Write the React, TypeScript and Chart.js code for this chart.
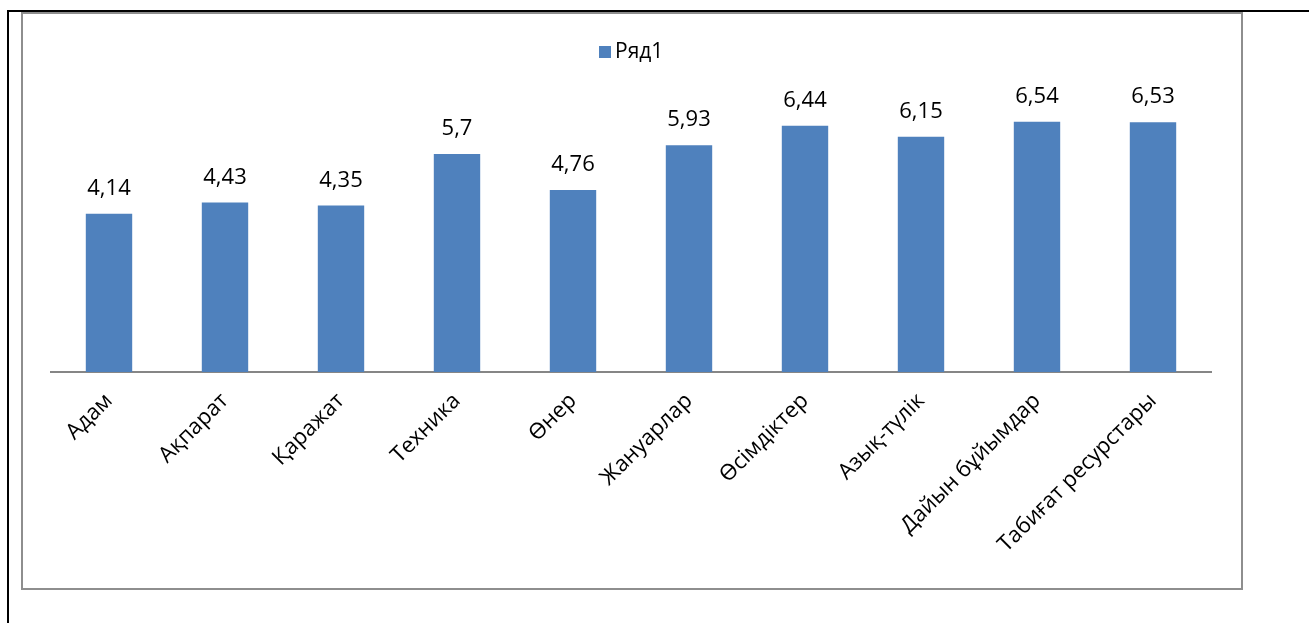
import React, { useEffect, useRef } from "react";
import { Chart, registerables } from "chart.js";

Chart.register(...registerables);

const categories: string[] = [
  "Адам",
  "Ақпарат",
  "Қаражат",
  "Техника",
  "Өнер",
  "Жануарлар",
  "Өсімдіктер",
  "Азық-түлік",
  "Дайын бұйымдар",
  "Табиғат ресурстары",
];
const values: number[] = [4.14, 4.43, 4.35, 5.7, 4.76, 5.93, 6.44, 6.15, 6.54, 6.53];
const valueLabels: string[] = ["4,14", "4,43", "4,35", "5,7", "4,76", "5,93", "6,44", "6,15", "6,54", "6,53"];
const seriesName = "Ряд1";

const FONT = "'Open Sans', sans-serif";
const BAR_COLOR = "#4F81BD";

const valueLabelPlugin = {
  id: "valueLabels",
  afterDatasetsDraw(chart: any) {
    const ctx = chart.ctx;
    const meta = chart.getDatasetMeta(0);
    ctx.save();
    ctx.font = `22px ${FONT}`;
    ctx.fillStyle = "#000";
    ctx.textAlign = "center";
    ctx.textBaseline = "alphabetic";
    meta.data.forEach((bar: any, i: number) => {
      ctx.fillText(valueLabels[i], bar.x, bar.y - 19);
    });
    ctx.restore();
  },
};

const legendPlugin = {
  id: "customLegend",
  afterDraw(chart: any) {
    const ctx = chart.ctx;
    ctx.save();
    ctx.font = `21px ${FONT}`;
    const tw = ctx.measureText(seriesName).width;
    const total = 12 + 4 + tw;
    const cx = (chart.chartArea.left + chart.chartArea.right) / 2;
    const x0 = Math.round(cx - total / 2);
    ctx.fillStyle = BAR_COLOR;
    ctx.fillRect(x0, 46, 12, 12);
    ctx.fillStyle = "#000";
    ctx.textBaseline = "middle";
    ctx.textAlign = "left";
    ctx.fillText(seriesName, x0 + 16, 52);
    ctx.restore();
  },
};

export default function App() {
  const ref = useRef<HTMLCanvasElement | null>(null);
  useEffect(() => {
    if (!ref.current) return;
    const chart = new Chart(ref.current, {
      type: "bar",
      data: {
        labels: categories,
        datasets: [
          {
            label: seriesName,
            data: values,
            backgroundColor: BAR_COLOR,
            categoryPercentage: 0.8,
            barPercentage: 0.5,
          },
        ],
      },
      options: {
        responsive: false,
        animation: false,
        devicePixelRatio: 1,
        layout: { padding: { left: 51, right: 98, top: 66, bottom: 0 } },
        plugins: {
          legend: { display: false },
          tooltip: { enabled: false },
        },
        scales: {
          x: {
            grid: { display: false, drawTicks: false },
            border: { display: true, color: "#868686", width: 2 },
            ticks: {
              color: "#000",
              font: { family: FONT, size: 22 },
              minRotation: 45,
              maxRotation: 45,
              padding: 16,
              autoSkip: false,
            },
            afterFit(scale: any) {
              scale.height = 251;
            },
          },
          y: {
            display: false,
            min: 0,
            max: 8,
          },
        },
      },
      plugins: [valueLabelPlugin, legendPlugin],
    });
    return () => chart.destroy();
  }, []);

  return (
    <div style={{ position: "absolute", left: 0, top: 0, width: 1309, height: 623, background: "#fff" }}>
      <canvas ref={ref} width={1309} height={623} style={{ position: "absolute", left: 0, top: 0 }} />
      <div style={{ position: "absolute", left: 7, top: 10, width: 2, height: 613, background: "#000" }} />
      <div style={{ position: "absolute", left: 7, top: 10, width: 1302, height: 2, background: "#000" }} />
      <div
        style={{
          position: "absolute",
          left: 21,
          top: 12,
          width: 1218,
          height: 574,
          border: "2px solid #8e8e8e",
          pointerEvents: "none",
        }}
      />
    </div>
  );
}
